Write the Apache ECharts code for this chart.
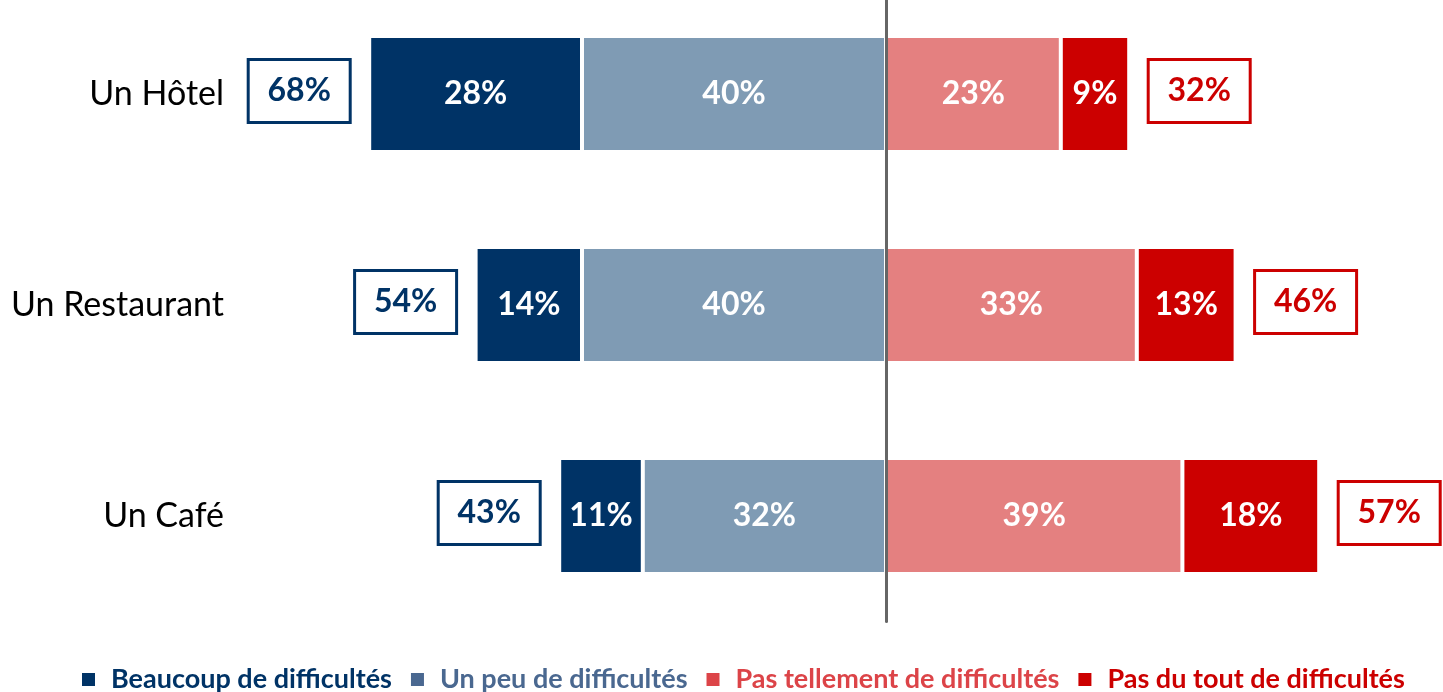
<!DOCTYPE html>
<html>
<head>
<meta charset="utf-8">
<script src="https://cdn.jsdelivr.net/npm/echarts@6/dist/echarts.min.js"></script>
<style>
html,body{margin:0;padding:0;background:#fff;}
#chart{width:1443px;height:692px;}
</style>
</head>
<body>
<div id="chart"></div>
<script>
const categories = ['Un Hôtel', 'Un Restaurant', 'Un Café'];
const beaucoup = [28, 14, 11];
const unPeu = [40, 40, 32];
const pasTellement = [23, 33, 39];
const pasDuTout = [9, 13, 18];
const totalDifficultes = [68, 54, 43];
const totalSansDifficultes = [32, 46, 57];
const seriesNames = ['Beaucoup de difficultés', 'Un peu de difficultés', 'Pas tellement de difficultés', 'Pas du tout de difficultés'];

const C_NAVY = '#003366';
const C_BLUE = '#7f9bb4';
const C_PINK = '#e48080';
const C_RED = '#cc0000';
const FONT = 'Lato, "Liberation Sans", sans-serif';

const chart = echarts.init(document.getElementById('chart'));

const labelStyle = {
  show: true,
  position: 'inside',
  color: '#fff',
  fontFamily: FONT,
  fontWeight: 'bold',
  fontSize: 32,
  formatter: p => Math.abs(p.value) + '%'
};

function barSeries(name, values, color, sign) {
  return {
    name: name,
    type: 'bar',
    stack: 'total',
    barWidth: 116,
    data: values.map(v => sign * v),
    itemStyle: { color: color, borderColor: '#fff', borderWidth: 2 },
    label: labelStyle,
    emphasis: { disabled: true }
  };
}

function boxSeries(values, side, color) {
  return {
    type: 'custom',
    silent: true,
    data: values.map((v, i) => [side * v, i, v]),
    encode: { x: 0, y: 1 },
    renderItem: function (params, api) {
      const pt = api.coord([api.value(0), api.value(1)]);
      const w = 102, h = 63, gap = 19;
      const x = side < 0 ? pt[0] - gap - w : pt[0] + gap;
      const y = pt[1] - h / 2 - 3;
      return {
        type: 'group',
        children: [
          { type: 'rect', shape: { x: x, y: y, width: w, height: h },
            style: { fill: '#fff', stroke: color, lineWidth: 3 } },
          { type: 'text', style: { x: x + w / 2, y: y + h / 2, text: api.value(2) + '%',
            fill: color, font: 'bold 32px ' + FONT, align: 'center', verticalAlign: 'middle' } }
        ]
      };
    }
  };
}

const option = {
  animation: false,
  grid: { left: 354, right: 25, top: -11.5, height: 633, containLabel: false, outerBoundsMode: 'none' },
  xAxis: {
    type: 'value', min: -70, max: 70, interval: 10,
    show: false
  },
  yAxis: {
    type: 'category',
    data: categories,
    inverse: true,
    axisTick: { show: false },
    axisLine: { show: true, onZero: true, lineStyle: { color: '#666666', width: 3 } },
    axisLabel: { margin: 130, color: '#000', fontFamily: FONT, fontSize: 34, padding: [8, 0, 0, 0] },
    z: 10
  },
  legend: {
    left: 75, top: 661,
    itemWidth: 15, itemHeight: 15, itemGap: 17,
    icon: 'rect',
    selectedMode: false,
    textStyle: { fontFamily: FONT, fontWeight: 'bold', fontSize: 27, padding: [0, 0, 0, 10] },
    data: [
      { name: seriesNames[0], itemStyle: { color: C_NAVY }, textStyle: { color: C_NAVY } },
      { name: seriesNames[1], itemStyle: { color: '#4a6890' }, textStyle: { color: '#4a6890' } },
      { name: seriesNames[2], itemStyle: { color: '#dc4448' }, textStyle: { color: '#dc4448' } },
      { name: seriesNames[3], itemStyle: { color: C_RED }, textStyle: { color: C_RED } }
    ]
  },
  series: [
    barSeries(seriesNames[1], unPeu, C_BLUE, -1),
    barSeries(seriesNames[0], beaucoup, C_NAVY, -1),
    barSeries(seriesNames[2], pasTellement, C_PINK, 1),
    barSeries(seriesNames[3], pasDuTout, C_RED, 1),
    boxSeries(totalDifficultes, -1, C_NAVY),
    boxSeries(totalSansDifficultes, 1, C_RED)
  ]
};
chart.setOption(option);
</script>
</body>
</html>
